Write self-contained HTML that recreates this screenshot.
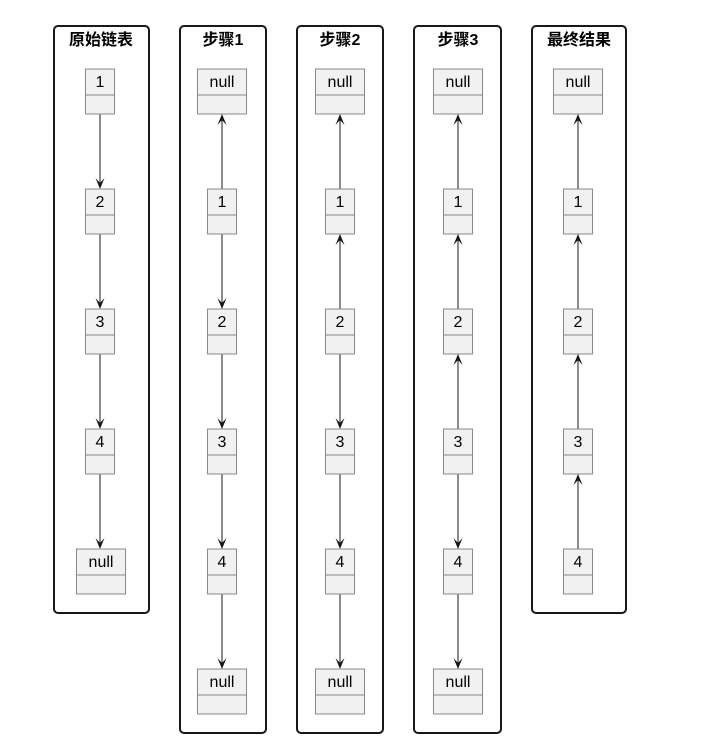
<!DOCTYPE html>
<html><head><meta charset="utf-8"><style>
html,body{margin:0;padding:0;background:#fff;}
svg{display:block;}
text{font-family:"Liberation Sans","Noto Sans CJK SC",sans-serif;}
</style></head><body>
<svg width="724" height="740" viewBox="0 0 724 740" xmlns="http://www.w3.org/2000/svg">
<defs>
<g id="n"><rect x="-14.5" y="0" width="29" height="45" fill="#f1f1f1" stroke="#888" stroke-width="1"/><line x1="-14.5" y1="26" x2="14.5" y2="26" stroke="#888"/></g>
<g id="nl"><rect x="-24.5" y="0" width="49" height="45" fill="#f1f1f1" stroke="#888" stroke-width="1"/><line x1="-24.5" y1="26" x2="24.5" y2="26" stroke="#888"/></g>
<path id="ad" d="M0,0 L-4.5,-11 L0,-6 L4.5,-11 Z" fill="#181818"/>
<path id="au" d="M0,0 L-4.5,11 L0,6 L4.5,11 Z" fill="#181818"/>
</defs>
<g fill="none" stroke="#181818" stroke-width="2">
<rect x="54" y="26" width="95" height="587" rx="4"/>
<rect x="180" y="26" width="86" height="707" rx="4"/>
<rect x="297" y="26" width="86" height="707" rx="4"/>
<rect x="414" y="26" width="87" height="707" rx="4"/>
<rect x="532" y="26" width="94" height="587" rx="4"/>
</g>
<g font-size="16" font-weight="bold" text-anchor="middle" fill="#000">
<text x="101" y="45">原始链表</text>
<text x="223" y="45">步骤1</text>
<text x="340" y="45">步骤2</text>
<text x="458" y="45">步骤3</text>
<text x="579" y="45">最终结果</text>
</g>
<g stroke="#181818" stroke-width="1">
<!-- col1 -->
<line x1="100" y1="114" x2="100" y2="186"/><line x1="100" y1="234" x2="100" y2="306"/><line x1="100" y1="354" x2="100" y2="426"/><line x1="100" y1="474" x2="100" y2="546"/>
<!-- col2 -->
<line x1="222" y1="189" x2="222" y2="117"/><line x1="222" y1="234" x2="222" y2="306"/><line x1="222" y1="354" x2="222" y2="426"/><line x1="222" y1="474" x2="222" y2="546"/><line x1="222" y1="594" x2="222" y2="666"/>
<!-- col3 -->
<line x1="340" y1="189" x2="340" y2="117"/><line x1="340" y1="309" x2="340" y2="237"/><line x1="340" y1="354" x2="340" y2="426"/><line x1="340" y1="474" x2="340" y2="546"/><line x1="340" y1="594" x2="340" y2="666"/>
<!-- col4 -->
<line x1="458" y1="189" x2="458" y2="117"/><line x1="458" y1="309" x2="458" y2="237"/><line x1="458" y1="429" x2="458" y2="357"/><line x1="458" y1="474" x2="458" y2="546"/><line x1="458" y1="594" x2="458" y2="666"/>
<!-- col5 -->
<line x1="578" y1="189" x2="578" y2="117"/><line x1="578" y1="309" x2="578" y2="237"/><line x1="578" y1="429" x2="578" y2="357"/><line x1="578" y1="549" x2="578" y2="477"/>
</g>
<!-- arrowheads -->
<use href="#ad" x="100" y="189"/><use href="#ad" x="100" y="309"/><use href="#ad" x="100" y="429"/><use href="#ad" x="100" y="549"/>
<use href="#au" x="222" y="114"/><use href="#ad" x="222" y="309"/><use href="#ad" x="222" y="429"/><use href="#ad" x="222" y="549"/><use href="#ad" x="222" y="669"/>
<use href="#au" x="340" y="114"/><use href="#au" x="340" y="234"/><use href="#ad" x="340" y="429"/><use href="#ad" x="340" y="549"/><use href="#ad" x="340" y="669"/>
<use href="#au" x="458" y="114"/><use href="#au" x="458" y="234"/><use href="#au" x="458" y="354"/><use href="#ad" x="458" y="549"/><use href="#ad" x="458" y="669"/>
<use href="#au" x="578" y="114"/><use href="#au" x="578" y="234"/><use href="#au" x="578" y="354"/><use href="#au" x="578" y="474"/>
<!-- nodes -->
<use href="#n" x="100" y="69"/><use href="#n" x="100" y="189"/><use href="#n" x="100" y="309"/><use href="#n" x="100" y="429"/><use href="#nl" x="101" y="549"/>
<use href="#nl" x="222" y="69"/><use href="#n" x="222" y="189"/><use href="#n" x="222" y="309"/><use href="#n" x="222" y="429"/><use href="#n" x="222" y="549"/><use href="#nl" x="222" y="669"/>
<use href="#nl" x="340" y="69"/><use href="#n" x="340" y="189"/><use href="#n" x="340" y="309"/><use href="#n" x="340" y="429"/><use href="#n" x="340" y="549"/><use href="#nl" x="340" y="669"/>
<use href="#nl" x="458" y="69"/><use href="#n" x="458" y="189"/><use href="#n" x="458" y="309"/><use href="#n" x="458" y="429"/><use href="#n" x="458" y="549"/><use href="#nl" x="458" y="669"/>
<use href="#nl" x="578" y="69"/><use href="#n" x="578" y="189"/><use href="#n" x="578" y="309"/><use href="#n" x="578" y="429"/><use href="#n" x="578" y="549"/>
<g font-size="16" text-anchor="middle" fill="#000">
<text x="100" y="87">1</text><text x="100" y="207">2</text><text x="100" y="327">3</text><text x="100" y="447">4</text><text x="101" y="567">null</text>
<text x="222" y="87">null</text><text x="222" y="207">1</text><text x="222" y="327">2</text><text x="222" y="447">3</text><text x="222" y="567">4</text><text x="222" y="687">null</text>
<text x="340" y="87">null</text><text x="340" y="207">1</text><text x="340" y="327">2</text><text x="340" y="447">3</text><text x="340" y="567">4</text><text x="340" y="687">null</text>
<text x="458" y="87">null</text><text x="458" y="207">1</text><text x="458" y="327">2</text><text x="458" y="447">3</text><text x="458" y="567">4</text><text x="458" y="687">null</text>
<text x="578" y="87">null</text><text x="578" y="207">1</text><text x="578" y="327">2</text><text x="578" y="447">3</text><text x="578" y="567">4</text>
</g>
</svg>
</body></html>
